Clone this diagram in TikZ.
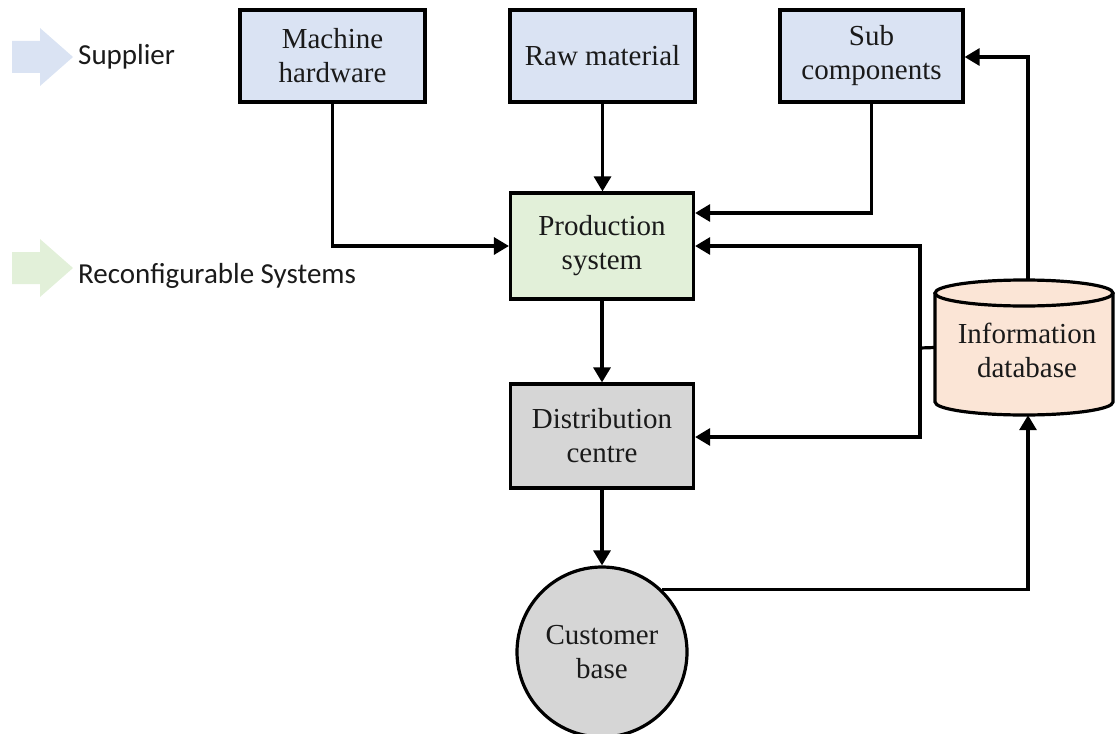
\documentclass[tikz,border=0pt]{standalone}
\usepackage{fontspec}
\setmainfont{Liberation Serif}
\newfontfamily\legendfont{Carlito}
\usetikzlibrary{arrows.meta,calc}
\definecolor{boxblue}{HTML}{DAE3F3}
\definecolor{boxgreen}{HTML}{E2F0D9}
\definecolor{boxgray}{HTML}{D6D6D6}
\definecolor{dbfill}{HTML}{FBE5D6}
\definecolor{inkc}{HTML}{1A1A1A}
\begin{document}
\begin{tikzpicture}[x=1pt,y=-1pt,
  txt/.style={font=\fontsize{29}{34}\selectfont, align=center, text=inkc},
  blk/.style={txt, draw=black, line width=3.2pt, inner sep=0pt},
  conn/.style={line width=3.2pt, -{Triangle[length=15pt,width=17pt]}},
  plain/.style={line width=3.2pt},
  legtext/.style={font=\legendfont\fontsize{29}{33}\selectfont, anchor=west, inner sep=0pt, text=inkc}
]
\useasboundingbox (0,0) rectangle (1115,733);

% legend
\fill[boxblue] (12,41) -- (40,41) -- (40,28) -- (73,57) -- (40,86) -- (40,73) -- (12,73) -- cycle;
\node[legtext] (lsup) at (78,57) {Supplier};
\fill[boxgreen] (12,252) -- (40,252) -- (40,239) -- (73,268) -- (40,297) -- (40,284) -- (12,284) -- cycle;
\node[legtext] (lrec) at (78,276) {Reconfigurable Systems};

% boxes
\node[blk, fill=boxblue, minimum width=185pt, minimum height=92pt] (mh) at (332.5,56) {Machine\\hardware};
\node[blk, fill=boxblue, minimum width=185pt, minimum height=92pt] (rm) at (602.5,56) {Raw material};
\node[blk, fill=boxblue, minimum width=183pt, minimum height=92pt] (sc) at (871.5,56) {Sub\\components};
\node[blk, fill=boxgreen, minimum width=183pt, minimum height=106pt] (ps) at (602,246) {Production\\system};
\node[blk, fill=boxgray, minimum width=183pt, minimum height=104pt] (dc) at (602,436) {Distribution\\centre};
\node[blk, fill=boxgray, circle, minimum size=170pt] (cb) at (602,652) {Customer\\base};

% database cylinder
\fill[dbfill] (935,293) -- (935,402) arc[start angle=180, end angle=0, x radius=89, y radius=13] -- (1113,293) -- cycle;
\draw[plain] (935,293) -- (935,402) arc[start angle=180, end angle=0, x radius=89, y radius=13] -- (1113,293);
\filldraw[fill=dbfill, line width=3.2pt] (1024,293) ellipse[x radius=89, y radius=13];
\node[inner sep=0pt, minimum width=178pt, minimum height=135pt] (db) at (1024,347.5) {};
\node[txt] (dbt) at (1027,350) {Information\\database};

% connectors
\draw[conn] (mh.south) |- (ps.west);
\draw[conn] (rm.south) -- (rm.south |- ps.north);
\draw[conn] (sc.south) |- ([yshift=33pt]ps.east);
\coordinate (j) at (920,348);
\draw[plain] (db.west) -- (j);
\draw[conn] (j) |- (ps.east);
\draw[conn] (j) |- ([yshift=-1pt]dc.east);
\draw[conn] ([xshift=4pt]db.north) |- ([yshift=-1pt]sc.east);
\draw[conn] (ps.south) -- (dc.north);
\draw[conn] (dc.south) -- (cb.north);
\draw[conn] (cb.46) -| ([xshift=4pt]db.south);
\end{tikzpicture}
\end{document}
